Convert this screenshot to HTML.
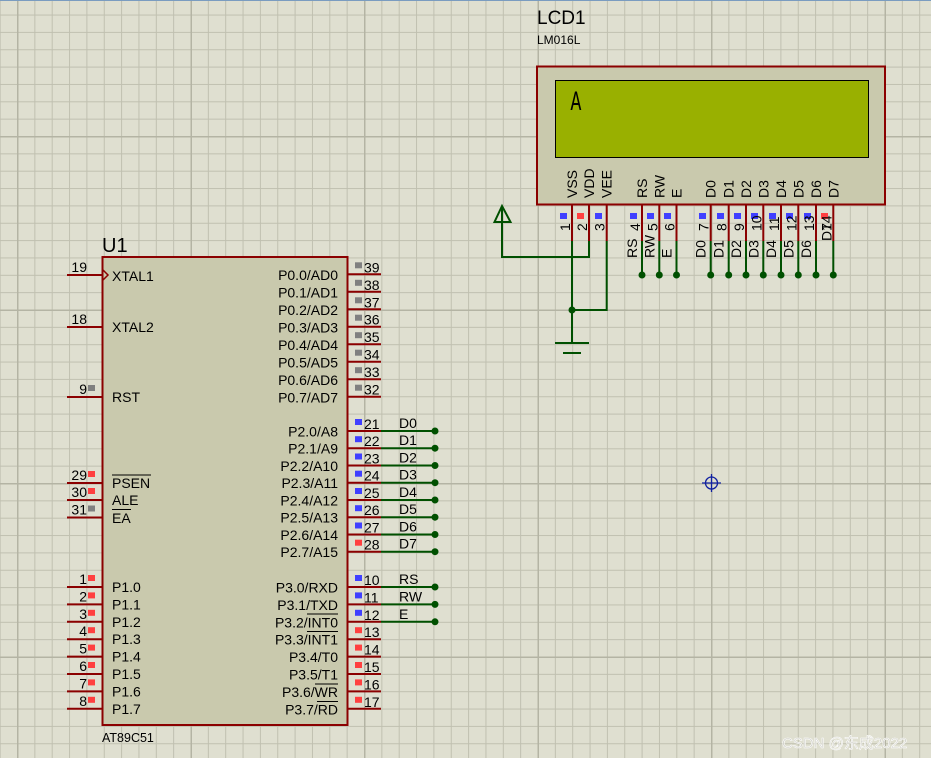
<!DOCTYPE html>
<html><head><meta charset="utf-8"><style>
html,body{margin:0;padding:0;background:#dfdfd0;}
svg{display:block;}
text{font-family:"Liberation Sans","Noto Sans CJK SC",sans-serif;fill:#000;}
</style></head><body>
<svg width="931" height="758" viewBox="0 0 931 758" xmlns="http://www.w3.org/2000/svg">
<defs>
<pattern id="g" x="17" y="14.55" width="17.35" height="17.35" patternUnits="userSpaceOnUse">
<path d="M0.5 0V17.35M0 0.5H17.35" stroke="#c0c0b0" stroke-width="1" fill="none"/>
</pattern>
<pattern id="G" x="17" y="136" width="173.5" height="173.5" patternUnits="userSpaceOnUse">
<path d="M0.5 0V173.5M0 0.5H173.5" stroke="#b4b4a4" stroke-width="2" fill="none"/>
</pattern>
</defs>
<rect width="931" height="758" fill="#dfdfd0"/>
<rect width="931" height="758" fill="url(#g)"/>
<rect width="931" height="758" fill="url(#G)"/>
<line x1="0" y1="0.5" x2="931" y2="0.5" stroke="#7a9cc0"/>

<!-- LCD -->
<text x="537" y="24" font-size="19">LCD1</text>
<text x="537" y="44" font-size="12">LM016L</text>
<rect x="537" y="66.5" width="348" height="138" fill="#c9c9ad" stroke="#8b0000" stroke-width="2"/>
<rect x="555.5" y="80.5" width="313" height="77" fill="#99b000" stroke="#000" stroke-width="1"/>
<text transform="translate(570.5,110) scale(1,1.55)" font-size="18" font-family="Liberation Mono,monospace" style="font-family:'Liberation Mono',monospace">A</text>

<g stroke="#8b0000" stroke-width="2">
<line x1="572" y1="205" x2="572" y2="241"/><line x1="589" y1="205" x2="589" y2="241"/><line x1="606.7" y1="205" x2="606.7" y2="241"/>
<line x1="642" y1="205" x2="642" y2="241"/><line x1="659.3" y1="205" x2="659.3" y2="241"/><line x1="676.5" y1="205" x2="676.5" y2="241"/>
<line x1="710.7" y1="205" x2="710.7" y2="241"/><line x1="728.7" y1="205" x2="728.7" y2="241"/><line x1="746" y1="205" x2="746" y2="241"/><line x1="763.3" y1="205" x2="763.3" y2="241"/>
<line x1="781" y1="205" x2="781" y2="241"/><line x1="798.3" y1="205" x2="798.3" y2="241"/><line x1="816" y1="205" x2="816" y2="241"/><line x1="833.3" y1="205" x2="833.3" y2="241"/>
</g>
<g stroke="#005000" stroke-width="2" fill="none">
<line x1="642" y1="241" x2="642" y2="275"/><line x1="659.3" y1="241" x2="659.3" y2="275"/><line x1="676.5" y1="241" x2="676.5" y2="275"/>
<line x1="710.7" y1="241" x2="710.7" y2="275"/><line x1="728.7" y1="241" x2="728.7" y2="275"/><line x1="746" y1="241" x2="746" y2="275"/><line x1="763.3" y1="241" x2="763.3" y2="275"/>
<line x1="781" y1="241" x2="781" y2="275"/><line x1="798.3" y1="241" x2="798.3" y2="275"/><line x1="816" y1="241" x2="816" y2="275"/><line x1="833.3" y1="241" x2="833.3" y2="275"/>
<polyline points="502,207 502,257 589,257 589,241"/>
<polygon points="502,206 494.5,222 510.5,222"/>
<polyline points="572,241 572,343"/>
<polyline points="572,310 606.7,310 606.7,241"/>
<line x1="555" y1="343" x2="589" y2="343"/>
<line x1="563" y1="353" x2="581" y2="353"/>
</g>
<g fill="#005000">
<circle cx="572" cy="310" r="3.5"/>
<circle cx="642" cy="275" r="3.5"/><circle cx="659.3" cy="275" r="3.5"/><circle cx="676.5" cy="275" r="3.5"/>
<circle cx="710.7" cy="275" r="3.5"/><circle cx="728.7" cy="275" r="3.5"/><circle cx="746" cy="275" r="3.5"/><circle cx="763.3" cy="275" r="3.5"/>
<circle cx="781" cy="275" r="3.5"/><circle cx="798.3" cy="275" r="3.5"/><circle cx="816" cy="275" r="3.5"/><circle cx="833.3" cy="275" r="3.5"/>
</g>
<g fill="#4040ff">
<rect x="560" y="213" width="7" height="6"/><rect x="595" y="213" width="7" height="6"/>
<rect x="630" y="213" width="7" height="6"/><rect x="647" y="213" width="7" height="6"/><rect x="664" y="213" width="7" height="6"/>
<rect x="699" y="213" width="7" height="6"/><rect x="717" y="213" width="7" height="6"/><rect x="734" y="213" width="7" height="6"/><rect x="751" y="213" width="7" height="6"/>
<rect x="769" y="213" width="7" height="6"/><rect x="786" y="213" width="7" height="6"/><rect x="804" y="213" width="7" height="6"/>
</g>
<g fill="#ff4040"><rect x="577" y="213" width="7" height="6"/><rect x="821" y="213" width="7" height="6"/></g>
<g font-size="14">
<text transform="translate(577,198) rotate(-90)">VSS</text>
<text transform="translate(594,198) rotate(-90)">VDD</text>
<text transform="translate(611.7,198) rotate(-90)">VEE</text>
<text transform="translate(647,198) rotate(-90)">RS</text>
<text transform="translate(664.3,198) rotate(-90)">RW</text>
<text transform="translate(681.5,198) rotate(-90)">E</text>
<text transform="translate(715.7,198) rotate(-90)">D0</text>
<text transform="translate(733.7,198) rotate(-90)">D1</text>
<text transform="translate(751,198) rotate(-90)">D2</text>
<text transform="translate(768.3,198) rotate(-90)">D3</text>
<text transform="translate(786,198) rotate(-90)">D4</text>
<text transform="translate(803.3,198) rotate(-90)">D5</text>
<text transform="translate(821,198) rotate(-90)">D6</text>
<text transform="translate(838.3,198) rotate(-90)">D7</text>

<text transform="translate(570,231) rotate(-90)">1</text>
<text transform="translate(587,231) rotate(-90)">2</text>
<text transform="translate(604.7,231) rotate(-90)">3</text>
<text transform="translate(640,231) rotate(-90)">4</text>
<text transform="translate(657.3,231) rotate(-90)">5</text>
<text transform="translate(674.5,231) rotate(-90)">6</text>
<text transform="translate(708.7,231) rotate(-90)">7</text>
<text transform="translate(726.7,231) rotate(-90)">8</text>
<text transform="translate(744,231) rotate(-90)">9</text>
<text transform="translate(761.3,231) rotate(-90)">10</text>
<text transform="translate(779,231) rotate(-90)">11</text>
<text transform="translate(796.3,231) rotate(-90)">12</text>
<text transform="translate(814,231) rotate(-90)">13</text>
<text transform="translate(831.3,231) rotate(-90)">14</text>

<text transform="translate(637,258) rotate(-90)">RS</text>
<text transform="translate(654.3,258) rotate(-90)">RW</text>
<text transform="translate(671.5,258) rotate(-90)">E</text>
<text transform="translate(705.7,258) rotate(-90)">D0</text>
<text transform="translate(723.7,258) rotate(-90)">D1</text>
<text transform="translate(741,258) rotate(-90)">D2</text>
<text transform="translate(758.3,258) rotate(-90)">D3</text>
<text transform="translate(776,258) rotate(-90)">D4</text>
<text transform="translate(793.3,258) rotate(-90)">D5</text>
<text transform="translate(811,258) rotate(-90)">D6</text>
<text transform="translate(831.3,241) rotate(-90)">D7</text>
</g>

<!-- Chip -->
<text x="102" y="252" font-size="20">U1</text>
<rect x="102.5" y="257" width="245" height="468" fill="#c9c9ad" stroke="#8b0000" stroke-width="2"/>
<text x="102" y="742" font-size="12.5">AT89C51</text>
<g stroke="#8b0000" stroke-width="2">
<line x1="67" y1="275" x2="102" y2="275"/><line x1="67" y1="327" x2="102" y2="327"/><line x1="67" y1="397" x2="102" y2="397"/>
<line x1="67" y1="483" x2="102" y2="483"/><line x1="67" y1="500" x2="102" y2="500"/><line x1="67" y1="517.5" x2="102" y2="517.5"/>
<line x1="67" y1="587" x2="102" y2="587"/><line x1="67" y1="604.4" x2="102" y2="604.4"/><line x1="67" y1="621.8" x2="102" y2="621.8"/><line x1="67" y1="639.2" x2="102" y2="639.2"/>
<line x1="67" y1="656.6" x2="102" y2="656.6"/><line x1="67" y1="674" x2="102" y2="674"/><line x1="67" y1="691.4" x2="102" y2="691.4"/><line x1="67" y1="708.8" x2="102" y2="708.8"/>

<line x1="348" y1="274.3" x2="381" y2="274.3"/><line x1="348" y1="291.8" x2="381" y2="291.8"/><line x1="348" y1="309.3" x2="381" y2="309.3"/><line x1="348" y1="326.7" x2="381" y2="326.7"/>
<line x1="348" y1="344.2" x2="381" y2="344.2"/><line x1="348" y1="361.7" x2="381" y2="361.7"/><line x1="348" y1="379.2" x2="381" y2="379.2"/><line x1="348" y1="396.7" x2="381" y2="396.7"/>
<line x1="348" y1="431" x2="381" y2="431"/><line x1="348" y1="448.2" x2="381" y2="448.2"/><line x1="348" y1="465.5" x2="381" y2="465.5"/><line x1="348" y1="482.7" x2="381" y2="482.7"/>
<line x1="348" y1="500" x2="381" y2="500"/><line x1="348" y1="517.2" x2="381" y2="517.2"/><line x1="348" y1="534.5" x2="381" y2="534.5"/><line x1="348" y1="551.7" x2="381" y2="551.7"/>
<line x1="348" y1="587" x2="381" y2="587"/><line x1="348" y1="604.4" x2="381" y2="604.4"/><line x1="348" y1="621.8" x2="381" y2="621.8"/><line x1="348" y1="639.2" x2="381" y2="639.2"/>
<line x1="348" y1="656.6" x2="381" y2="656.6"/><line x1="348" y1="674" x2="381" y2="674"/><line x1="348" y1="691.4" x2="381" y2="691.4"/><line x1="348" y1="708.8" x2="381" y2="708.8"/>
</g>
<polyline points="103,270 108,275 103,280" fill="none" stroke="#8b0000" stroke-width="1.5"/>
<g stroke="#005000" stroke-width="2">
<line x1="381" y1="431" x2="435" y2="431"/><line x1="381" y1="448.2" x2="435" y2="448.2"/><line x1="381" y1="465.5" x2="435" y2="465.5"/><line x1="381" y1="482.7" x2="435" y2="482.7"/>
<line x1="381" y1="500" x2="435" y2="500"/><line x1="381" y1="517.2" x2="435" y2="517.2"/><line x1="381" y1="534.5" x2="435" y2="534.5"/><line x1="381" y1="551.7" x2="435" y2="551.7"/>
<line x1="381" y1="587" x2="435" y2="587"/><line x1="381" y1="604.4" x2="435" y2="604.4"/><line x1="381" y1="621.8" x2="435" y2="621.8"/>
</g>
<g fill="#005000">
<circle cx="435" cy="431" r="3.5"/><circle cx="435" cy="448.2" r="3.5"/><circle cx="435" cy="465.5" r="3.5"/><circle cx="435" cy="482.7" r="3.5"/>
<circle cx="435" cy="500" r="3.5"/><circle cx="435" cy="517.2" r="3.5"/><circle cx="435" cy="534.5" r="3.5"/><circle cx="435" cy="551.7" r="3.5"/>
<circle cx="435" cy="587" r="3.5"/><circle cx="435" cy="604.4" r="3.5"/><circle cx="435" cy="621.8" r="3.5"/>
</g>
<g fill="#808080">
<rect x="88" y="385" width="7" height="6"/><rect x="88" y="505.5" width="7" height="6"/>
<rect x="355" y="262.3" width="7" height="6"/><rect x="355" y="279.8" width="7" height="6"/><rect x="355" y="297.3" width="7" height="6"/><rect x="355" y="314.7" width="7" height="6"/>
<rect x="355" y="332.2" width="7" height="6"/><rect x="355" y="349.7" width="7" height="6"/><rect x="355" y="367.2" width="7" height="6"/><rect x="355" y="384.7" width="7" height="6"/>
</g>
<g fill="#ff4040">
<rect x="88" y="471" width="7" height="6"/><rect x="88" y="488" width="7" height="6"/>
<rect x="88" y="575" width="7" height="6"/><rect x="88" y="592.4" width="7" height="6"/><rect x="88" y="609.8" width="7" height="6"/><rect x="88" y="627.2" width="7" height="6"/>
<rect x="88" y="644.6" width="7" height="6"/><rect x="88" y="662" width="7" height="6"/><rect x="88" y="679.4" width="7" height="6"/><rect x="88" y="696.8" width="7" height="6"/>
<rect x="355" y="539.7" width="7" height="6"/>
<rect x="355" y="627.2" width="7" height="6"/><rect x="355" y="644.6" width="7" height="6"/><rect x="355" y="662" width="7" height="6"/><rect x="355" y="679.4" width="7" height="6"/><rect x="355" y="696.8" width="7" height="6"/>
</g>
<g fill="#4040ff">
<rect x="355" y="419" width="7" height="6"/><rect x="355" y="436.2" width="7" height="6"/><rect x="355" y="453.5" width="7" height="6"/><rect x="355" y="470.7" width="7" height="6"/>
<rect x="355" y="488" width="7" height="6"/><rect x="355" y="505.2" width="7" height="6"/><rect x="355" y="522.5" width="7" height="6"/>
<rect x="355" y="575" width="7" height="6"/><rect x="355" y="592.4" width="7" height="6"/><rect x="355" y="609.8" width="7" height="6"/>
</g>
<g font-size="14">
<text x="112" y="281">XTAL1</text><text x="112" y="332">XTAL2</text><text x="112" y="402">RST</text>
<text x="112" y="488">PSEN</text><text x="112" y="505">ALE</text><text x="112" y="523">EA</text>
<text x="112" y="592">P1.0</text><text x="112" y="609.4">P1.1</text><text x="112" y="626.8">P1.2</text><text x="112" y="644.2">P1.3</text>
<text x="112" y="661.6">P1.4</text><text x="112" y="679">P1.5</text><text x="112" y="696.4">P1.6</text><text x="112" y="713.8">P1.7</text>
</g>
<g font-size="14" text-anchor="end">
<text x="87" y="272">19</text><text x="87" y="324">18</text><text x="87" y="394">9</text>
<text x="87" y="480">29</text><text x="87" y="497">30</text><text x="87" y="514.5">31</text>
<text x="87" y="584">1</text><text x="87" y="601.4">2</text><text x="87" y="618.8">3</text><text x="87" y="636.2">4</text>
<text x="87" y="653.6">5</text><text x="87" y="671">6</text><text x="87" y="688.4">7</text><text x="87" y="705.8">8</text>
</g>
<g stroke="#000" stroke-width="1">
<line x1="112" y1="475" x2="151" y2="475"/><line x1="112" y1="509.5" x2="131" y2="509.5"/>
<line x1="307" y1="614" x2="338" y2="614"/><line x1="307" y1="631.5" x2="338" y2="631.5"/>
<line x1="315" y1="684" x2="338" y2="684"/><line x1="317" y1="701.5" x2="338" y2="701.5"/>
</g>
<g font-size="14" text-anchor="end">
<text x="338" y="280">P0.0/AD0</text><text x="338" y="297.5">P0.1/AD1</text><text x="338" y="315">P0.2/AD2</text><text x="338" y="332.4">P0.3/AD3</text>
<text x="338" y="349.9">P0.4/AD4</text><text x="338" y="367.4">P0.5/AD5</text><text x="338" y="384.9">P0.6/AD6</text><text x="338" y="402.4">P0.7/AD7</text>
<text x="338" y="436.5">P2.0/A8</text><text x="338" y="453.7">P2.1/A9</text><text x="338" y="471">P2.2/A10</text><text x="338" y="488.2">P2.3/A11</text>
<text x="338" y="505.5">P2.4/A12</text><text x="338" y="522.7">P2.5/A13</text><text x="338" y="540">P2.6/A14</text><text x="338" y="557.2">P2.7/A15</text>
<text x="338" y="592.5">P3.0/RXD</text><text x="338" y="609.9">P3.1/TXD</text><text x="338" y="627.3">P3.2/INT0</text><text x="338" y="644.7">P3.3/INT1</text>
<text x="338" y="662.1">P3.4/T0</text><text x="338" y="679.5">P3.5/T1</text><text x="338" y="696.9">P3.6/WR</text><text x="338" y="714.3">P3.7/RD</text>
</g>
<g font-size="14">
<text x="364" y="272.3">39</text><text x="364" y="289.8">38</text><text x="364" y="307.3">37</text><text x="364" y="324.7">36</text>
<text x="364" y="342.2">35</text><text x="364" y="359.7">34</text><text x="364" y="377.2">33</text><text x="364" y="394.7">32</text>
<text x="364" y="429">21</text><text x="364" y="446.2">22</text><text x="364" y="463.5">23</text><text x="364" y="480.7">24</text>
<text x="364" y="498">25</text><text x="364" y="515.2">26</text><text x="364" y="532.5">27</text><text x="364" y="549.7">28</text>
<text x="364" y="585">10</text><text x="364" y="602.4">11</text><text x="364" y="619.8">12</text><text x="364" y="637.2">13</text>
<text x="364" y="654.6">14</text><text x="364" y="672">15</text><text x="364" y="689.4">16</text><text x="364" y="706.8">17</text>
<text x="399" y="428">D0</text><text x="399" y="445.2">D1</text><text x="399" y="462.5">D2</text><text x="399" y="479.7">D3</text>
<text x="399" y="497">D4</text><text x="399" y="514.2">D5</text><text x="399" y="531.5">D6</text><text x="399" y="548.7">D7</text>
<text x="399" y="584">RS</text><text x="399" y="601.4">RW</text><text x="399" y="618.8">E</text>
</g>

<g stroke="#1020a0" stroke-width="1.3" fill="none">
<circle cx="711.5" cy="483" r="6"/>
<line x1="702" y1="483" x2="721" y2="483"/><line x1="711.5" y1="474" x2="711.5" y2="492"/>
</g>
<text x="782" y="748" font-size="15" style="fill:#c8c8c0;stroke:#ffffff;stroke-width:0.6">CSDN @东成2022</text>
</svg>
</body></html>
